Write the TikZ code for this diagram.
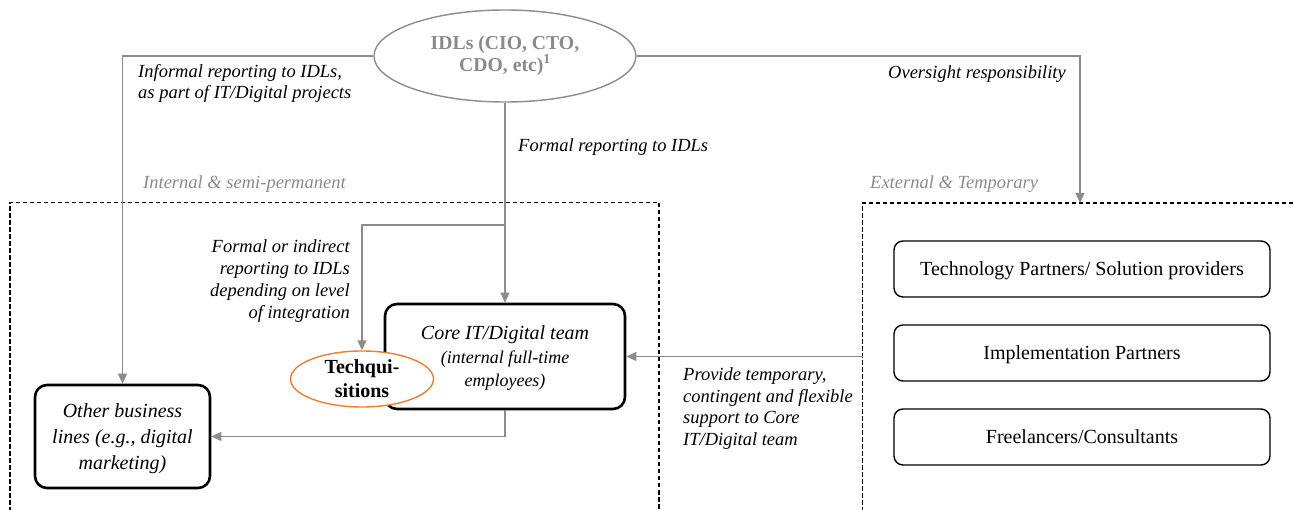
\documentclass[tikz,border=0pt]{standalone}
\usepackage{fontspec}
\setmainfont{Liberation Serif}
\usetikzlibrary{arrows.meta,shapes.geometric}
\definecolor{linegray}{HTML}{8C8C8C}
\definecolor{textgray}{HTML}{8A8A8A}
\definecolor{techorange}{HTML}{ED7D31}
\newcommand{\subline}{\fontsize{18}{22}\selectfont}
\begin{document}
\begin{tikzpicture}[x=1pt,y=-1pt,
  conn/.style={draw=linegray,line width=1.2pt,-{Triangle[width=9pt,length=10pt]}},
  thickbox/.style={draw=black,line width=2.6pt,rounded corners=12pt,text depth=-3pt,align=center,font=\fontsize{20}{26}\selectfont\itshape},
  extbox/.style={draw=black,line width=1.4pt,rounded corners=9pt,minimum width=376pt,minimum height=56pt,text depth=0pt,align=center,font=\fontsize{20}{24}\selectfont},
  zone/.style={draw=black,line width=1.3pt,dash pattern=on 4.5pt off 2.5pt},
  lbl/.style={font=\fontsize{18.5}{21.8}\selectfont\itshape,inner sep=0pt},
  zonelbl/.style={text=textgray,font=\fontsize{18.5}{21.8}\selectfont\itshape,inner sep=0pt}]
\useasboundingbox (0,0) rectangle (1294,510);

% zones (open at the bottom)
\draw[zone] (10,512) -- (10,202.5) -- (659,202.5) -- (659,512);
\draw[zone] (862.5,512) -- (862.5,203) -- (1296,203);
\node[zonelbl,anchor=west] (zint) at (143,184) {Internal \& semi-permanent};
\node[zonelbl,anchor=west] (zext) at (870,184) {External \& Temporary};

% main nodes
\node[ellipse,draw=linegray,line width=1.4pt,fill=white,minimum width=262pt,minimum height=92pt,inner sep=0pt,
      align=center,text=textgray,font=\fontsize{19.7}{21.5}\selectfont\bfseries] (idl) at (505,56)
      {IDLs (CIO, CTO,\\CDO, etc)\textsuperscript{1}};
\node[thickbox,minimum width=240pt,minimum height=105pt] (core) at (505,356.5)
      {Core IT/Digital team\\[-2pt]{\subline (internal full-time}\\[-3pt]{\subline employees)}};
\node[thickbox,minimum width=175pt,minimum height=103pt] (other) at (122.5,436.5)
      {Other business\\lines (e.g., digital\\marketing)};
\node[ellipse,draw=techorange,line width=1.4pt,fill=white,minimum width=143pt,minimum height=56pt,inner sep=0pt,
      align=center,font=\fontsize{20}{24}\selectfont\bfseries] (techq) at (362,379)
      {Techqui-\\sitions};

\node[extbox] (tech) at (1082,269) {Technology Partners/ Solution providers};
\node[extbox] (impl) at (1082,353) {Implementation Partners};
\node[extbox] (free) at (1082,437) {Freelancers/Consultants};

% connector end points
\coordinate (extTop) at (1080,203);
\coordinate (extSide) at (862.5,356.5);
\coordinate (br) at (505,225);

% connectors
\draw[conn] (idl.west) -| (other.north);
\draw[conn] (idl.east) -| (extTop);
\draw[conn] (idl.south) -- (core.north);
\draw[conn] (br) -| (techq.north);
\draw[conn] (core.south) |- (other.east);
\draw[conn] (extSide) -- (core.east);

% labels
\node[lbl,anchor=west,align=left] (linf) at (138,83.5) {Informal reporting to IDLs,\\as part of IT/Digital projects};
\node[lbl,anchor=east] (lover) at (1066,74) {Oversight responsibility};
\node[lbl,anchor=west] (lform) at (518,147) {Formal reporting to IDLs};
\node[lbl,anchor=east,align=right] (lind) at (350,281) {Formal or indirect\\reporting to IDLs\\depending on level\\of integration};
\node[lbl,anchor=west,align=left] (lprov) at (683,408.5) {Provide temporary,\\contingent and flexible\\support to Core\\IT/Digital team};
\end{tikzpicture}
\end{document}
